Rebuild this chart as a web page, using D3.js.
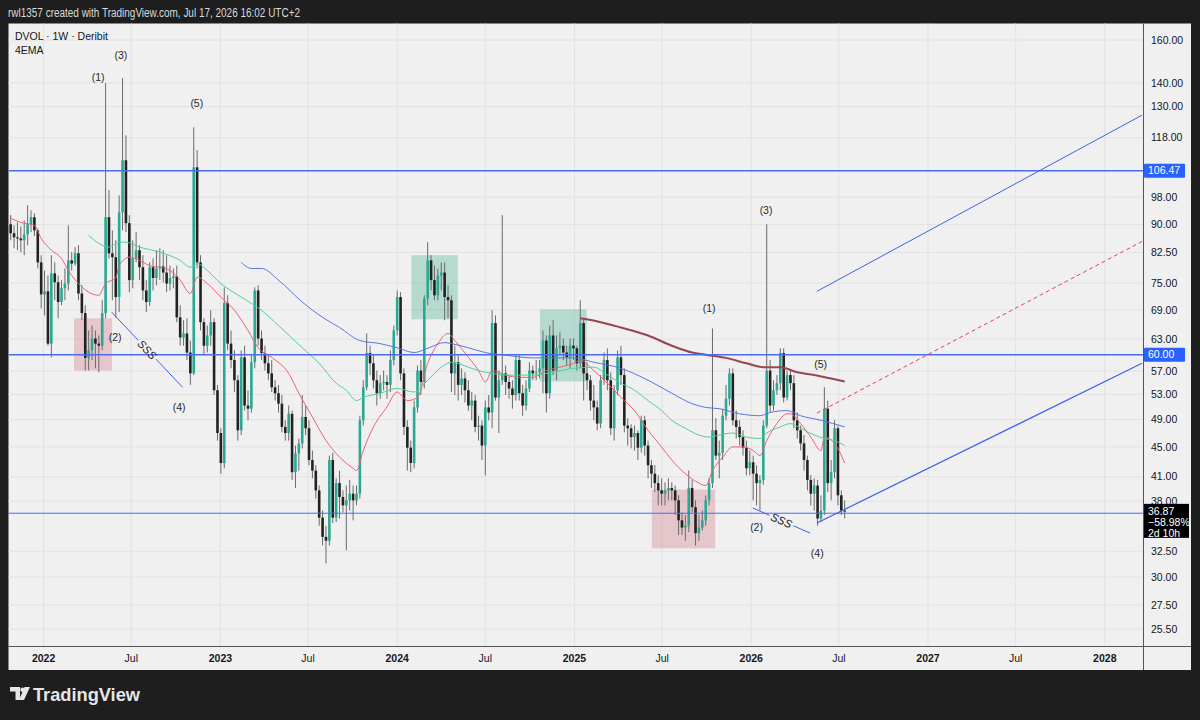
<!DOCTYPE html>
<html>
<head>
<meta charset="utf-8">
<script src="https://cdn.jsdelivr.net/npm/d3@7"></script>
<style>
  body { margin: 0; background: #1e1e1e; }
  svg { display: block; font-family: "Liberation Sans", "Noto Sans", sans-serif; }
</style>
</head>
<body>
<svg id="chart"></svg>
<script>
// weekly candles, first week starts Monday 2021-10-25
const firstWeek = Date.UTC(2021, 9, 25);

const open = [90.1, 87.6, 86.5, 86.2, 85.7, 87.3, 90.1, 92.1, 88.4, 80.0,
  72.4, 73.1, 62.1, 77.3, 75.2, 70.7, 73.8, 74.9, 80.5, 79.7,
  82.3, 72.6, 68.3, 59.4, 60.8, 63.1, 62.1, 61.7, 68.3, 92.1,
  82.3, 81.3, 71.8, 93.5, 110.0, 90.4, 75.7, 81.0, 83.1, 78.8,
  73.3, 70.7, 78.8, 76.2, 78.5, 79.0, 77.5, 74.9, 76.2, 76.6,
  67.4, 63.3, 64.1, 60.4, 56.6, 107.6, 80.0, 66.4, 61.7, 63.7,
  66.4, 53.7, 47.0, 42.8, 70.5, 62.1, 59.0, 55.4, 47.4, 59.5,
  51.2, 50.7, 58.6, 73.3, 63.1, 60.3, 58.4, 56.6, 54.2, 53.2,
  51.5, 47.9, 47.0, 49.9, 41.6, 44.1, 45.5, 49.4, 47.7, 43.2,
  41.8, 39.3, 36.1, 34.0, 33.6, 43.2, 36.1, 40.2, 38.5, 37.5,
  38.1, 38.9, 38.1, 38.9, 48.9, 54.2, 60.3, 58.4, 55.4, 53.2,
  54.9, 55.1, 54.6, 59.0, 64.7, 71.8, 56.6, 47.9, 44.9, 42.8,
  50.9, 57.1, 55.1, 71.5, 80.5, 75.7, 72.2, 76.8, 77.5, 71.8,
  71.1, 56.6, 58.6, 54.6, 55.7, 53.7, 51.2, 52.0, 47.9, 48.1,
  45.2, 50.9, 50.1, 66.2, 52.5, 55.4, 56.6, 55.1, 54.0, 52.9,
  59.0, 53.2, 51.2, 54.0, 57.1, 56.6, 56.8, 57.5, 62.7, 53.2,
  63.7, 57.1, 61.2, 61.7, 60.4, 59.5, 61.7, 61.2, 58.4, 66.2,
  56.6, 55.4, 52.0, 50.9, 48.4, 55.4, 59.0, 55.4, 47.7, 53.7,
  59.5, 56.3, 48.1, 47.7, 46.4, 47.0, 44.9, 48.9, 45.2, 42.5,
  41.4, 40.2, 39.3, 38.9, 39.3, 39.6, 39.3, 38.1, 35.8, 35.0,
  35.2, 39.6, 37.3, 34.4, 35.0, 35.8, 38.1, 40.2, 47.4, 43.8,
  44.2, 49.6, 52.3, 56.6, 48.9, 47.9, 46.4, 44.9, 42.1, 42.9,
  41.4, 40.2, 40.6, 48.1, 57.1, 51.2, 53.7, 54.9, 60.3, 52.5,
  56.3, 54.9, 48.9, 47.4, 45.5, 43.2, 40.6, 38.9, 39.9, 36.0,
  36.9, 50.7, 40.2, 41.6, 47.7, 38.7, 36.9];

const high = [92.7, 89.8, 90.6, 89.5, 91.2, 95.6, 94.1, 93.2, 88.9, 81.8,
  78.0, 76.8, 81.8, 80.0, 76.8, 75.7, 78.5, 89.8, 82.6, 83.9,
  84.4, 74.5, 70.0, 64.7, 65.7, 64.7, 63.7, 71.1, 139.9, 100.2,
  88.4, 85.7, 98.6, 142.1, 118.9, 92.7, 85.7, 87.9, 84.4, 81.8,
  75.7, 80.0, 81.0, 83.1, 83.6, 83.1, 81.8, 79.2, 78.5, 79.2,
  70.0, 66.8, 67.2, 62.7, 121.9, 113.5, 81.8, 67.2, 65.7, 68.9,
  67.2, 54.6, 47.7, 74.0, 72.2, 64.7, 60.8, 56.3, 60.8, 61.7,
  53.7, 59.9, 74.0, 74.5, 64.7, 61.7, 59.9, 59.0, 55.4, 54.6,
  52.9, 48.9, 51.2, 50.4, 45.2, 46.2, 52.9, 51.2, 48.9, 44.5,
  42.5, 39.9, 36.9, 35.2, 43.8, 44.2, 40.8, 41.8, 39.3, 39.9,
  40.6, 39.9, 39.9, 49.6, 55.4, 64.1, 61.7, 59.9, 57.1, 56.3,
  57.1, 56.3, 60.8, 65.7, 73.3, 72.9, 57.5, 48.9, 45.9, 52.0,
  58.0, 59.0, 72.2, 85.2, 81.8, 79.2, 78.5, 80.0, 80.0, 74.5,
  72.2, 61.7, 59.9, 57.5, 56.8, 55.4, 53.4, 52.9, 49.6, 48.9,
  52.0, 52.9, 68.9, 67.8, 57.1, 92.7, 58.0, 56.3, 55.4, 59.9,
  59.9, 54.6, 55.4, 58.6, 58.0, 59.0, 59.0, 64.7, 63.7, 65.7,
  66.8, 63.7, 64.3, 63.1, 61.7, 63.1, 63.1, 61.7, 71.1, 67.2,
  58.6, 56.3, 54.6, 52.0, 56.3, 60.4, 61.2, 56.8, 54.6, 60.8,
  61.7, 57.5, 49.2, 48.3, 48.1, 47.4, 49.6, 49.6, 45.9, 43.2,
  42.5, 41.2, 40.8, 40.3, 40.8, 40.3, 39.9, 38.7, 36.7, 36.4,
  41.8, 40.6, 38.1, 36.4, 36.9, 38.7, 40.8, 65.1, 49.2, 45.9,
  50.7, 54.6, 57.5, 57.5, 50.4, 48.9, 47.4, 45.9, 44.5, 43.8,
  42.5, 41.2, 48.9, 90.1, 59.0, 55.4, 56.3, 61.2, 61.2, 57.1,
  57.1, 56.3, 50.1, 48.1, 46.7, 43.8, 41.2, 40.8, 40.6, 38.7,
  54.2, 52.0, 43.2, 48.9, 48.1, 39.3, 38.1];

const low = [85.7, 83.6, 83.1, 82.6, 81.8, 84.4, 87.9, 86.8, 78.5, 69.3,
  67.8, 61.7, 59.5, 71.1, 67.2, 70.0, 71.1, 73.3, 78.0, 79.2,
  71.1, 66.8, 57.1, 57.1, 59.0, 57.5, 56.8, 60.8, 67.2, 81.0,
  71.1, 67.4, 68.5, 88.4, 87.9, 72.9, 73.8, 80.0, 75.7, 71.1,
  68.5, 69.8, 73.3, 74.5, 75.7, 75.2, 72.9, 73.3, 73.8, 66.4,
  61.7, 61.7, 59.0, 54.6, 56.3, 78.5, 64.7, 59.9, 60.4, 61.7,
  52.9, 45.9, 41.4, 42.1, 60.8, 57.5, 53.4, 45.9, 46.7, 50.4,
  48.9, 50.1, 57.5, 61.7, 59.0, 57.1, 55.4, 53.4, 52.0, 50.1,
  47.1, 45.9, 45.9, 40.6, 39.6, 41.8, 44.8, 46.7, 42.5, 40.8,
  38.3, 35.2, 33.1, 31.3, 33.1, 35.5, 35.6, 36.0, 36.7, 32.6,
  36.9, 35.8, 37.5, 38.3, 48.1, 53.7, 56.3, 54.0, 51.2, 52.3,
  53.7, 52.3, 53.4, 58.0, 63.7, 55.4, 46.7, 41.8, 41.6, 42.1,
  50.1, 52.9, 54.0, 70.0, 73.3, 71.1, 71.1, 73.3, 66.8, 67.2,
  53.4, 52.9, 52.0, 52.9, 51.7, 50.4, 48.9, 47.1, 45.9, 43.2,
  41.2, 48.9, 47.7, 52.0, 47.0, 54.6, 52.9, 52.3, 50.7, 52.0,
  52.0, 49.6, 50.4, 53.4, 55.4, 55.4, 55.7, 53.2, 50.1, 52.3,
  56.3, 55.4, 59.9, 59.0, 58.0, 57.5, 59.0, 57.1, 57.5, 52.0,
  53.7, 50.4, 48.9, 47.4, 47.7, 54.6, 53.7, 46.7, 45.9, 52.9,
  54.6, 47.1, 45.2, 44.8, 44.5, 43.2, 44.2, 43.8, 40.8, 39.6,
  39.1, 37.5, 37.5, 37.5, 38.1, 38.1, 36.4, 34.2, 34.2, 33.6,
  34.5, 36.7, 33.1, 33.6, 34.7, 35.2, 37.5, 39.6, 43.2, 40.8,
  43.2, 48.9, 51.2, 48.1, 46.2, 45.2, 43.8, 41.2, 41.2, 38.1,
  37.5, 36.9, 40.0, 47.7, 50.1, 50.4, 52.9, 53.7, 51.7, 52.0,
  53.7, 47.7, 46.2, 44.5, 41.8, 39.3, 37.5, 36.9, 35.2, 35.6,
  36.4, 39.1, 38.1, 40.8, 37.5, 36.4, 36.0];

const close = [87.6, 86.5, 86.2, 85.7, 87.3, 90.1, 92.1, 88.4, 80.0, 72.4,
  73.1, 62.1, 77.3, 75.2, 70.7, 73.8, 74.9, 80.5, 79.7, 82.3,
  72.6, 68.3, 59.4, 60.8, 63.1, 62.1, 61.7, 68.3, 92.1, 82.3,
  81.3, 71.8, 93.5, 110.0, 90.4, 75.7, 81.0, 83.1, 78.8, 73.3,
  70.7, 78.8, 76.2, 78.5, 79.0, 77.5, 74.9, 76.2, 76.6, 67.4,
  63.3, 64.1, 60.4, 56.6, 107.6, 80.0, 66.4, 61.7, 63.7, 66.4,
  53.7, 47.0, 42.8, 70.5, 62.1, 59.0, 55.4, 47.4, 59.5, 51.2,
  50.7, 58.6, 73.3, 63.1, 60.3, 58.4, 56.6, 54.2, 53.2, 51.5,
  47.9, 47.0, 49.9, 41.6, 44.1, 45.5, 49.4, 47.7, 43.2, 41.8,
  39.3, 36.1, 34.0, 33.6, 43.2, 36.1, 40.2, 38.5, 37.5, 38.1,
  38.9, 38.1, 38.9, 48.9, 54.2, 60.3, 58.4, 55.4, 53.2, 54.9,
  55.1, 54.6, 59.0, 64.7, 71.8, 56.6, 47.9, 44.9, 42.8, 50.9,
  57.1, 55.1, 71.5, 80.5, 75.7, 72.2, 76.8, 77.5, 71.8, 71.1,
  56.6, 58.6, 54.6, 55.7, 53.7, 51.2, 52.0, 47.9, 48.1, 45.2,
  50.9, 50.1, 66.2, 52.5, 55.4, 56.6, 55.1, 54.0, 52.9, 59.0,
  53.2, 51.2, 54.0, 57.1, 56.6, 56.8, 57.5, 62.7, 53.2, 63.7,
  57.1, 61.2, 61.7, 60.4, 59.5, 61.7, 61.2, 58.4, 66.2, 56.6,
  55.4, 52.0, 50.9, 48.4, 55.4, 59.0, 55.4, 47.7, 53.7, 59.5,
  56.3, 48.1, 47.7, 46.4, 47.0, 44.9, 48.9, 45.2, 42.5, 41.4,
  40.2, 39.3, 38.9, 39.3, 39.6, 39.3, 38.1, 35.8, 35.0, 35.2,
  39.6, 37.3, 34.4, 35.0, 35.8, 38.1, 40.2, 47.4, 43.8, 44.2,
  49.6, 52.3, 56.6, 48.9, 47.9, 46.4, 44.9, 42.1, 42.9, 41.4,
  40.2, 40.6, 48.1, 57.1, 51.2, 53.7, 54.9, 60.3, 52.5, 56.3,
  54.9, 48.9, 47.4, 45.5, 43.2, 40.6, 38.9, 39.9, 36.0, 36.9,
  50.7, 40.2, 41.6, 47.7, 38.7, 36.9, 36.87];

// 4EMA lines: [week index, value]
const emaFast = [[0, 91.8], [3, 90.6], [7, 89.8], [9, 86.2], [12, 83.1], [15, 81.0], [17, 78.0],
  [20, 74.9], [23, 72.9], [26, 72.2], [28, 74.9], [31, 76.2], [32, 79.2], [35, 81.3], [38, 80.5],
  [41, 79.2], [44, 78.8], [47, 78.0], [50, 75.7], [53, 72.6], [55, 76.4], [58, 74.9], [62, 71.8],
  [66, 68.9], [70, 64.7], [73, 61.3], [77, 59.5], [82, 56.6], [85, 53.2], [89, 49.4], [93, 45.9],
  [97, 43.6], [101, 42.1], [102, 41.8], [104, 44.5], [107, 47.9], [111, 51.0], [114, 53.4],
  [117, 52.0], [120, 52.5], [123, 58.4], [126, 62.1], [129, 64.1], [131, 62.7], [135, 59.5],
  [138, 57.1], [140, 55.1], [142, 57.1], [146, 56.3], [150, 55.9], [154, 55.9], [158, 57.1],
  [162, 57.7], [166, 58.4], [168, 59.0], [172, 57.1], [176, 54.9], [180, 52.5], [184, 50.4],
  [188, 47.4], [192, 45.0], [195, 43.2], [199, 41.4], [203, 40.2], [205, 39.9], [207, 41.8],
  [210, 43.6], [213, 45.0], [216, 45.0], [219, 44.5], [221, 43.8], [223, 45.9], [226, 48.4],
  [229, 49.9], [230, 49.9], [233, 48.4], [236, 46.4], [239, 44.5], [240, 46.4], [243, 45.5],
  [246, 42.8]];
const emaMid = [[23, 87.0], [26, 84.9], [29, 83.9], [32, 85.2], [34, 85.2], [38, 83.9], [44, 82.6],
  [50, 80.5], [53, 78.8], [55, 79.7], [58, 78.0], [62, 74.9], [68, 71.8], [74, 68.9], [79, 65.7],
  [86, 61.3], [91, 58.4], [96, 54.9], [99, 53.7], [102, 52.0], [104, 52.5], [109, 53.2],
  [114, 54.0], [119, 53.4], [123, 55.4], [127, 57.7], [130, 58.6], [135, 57.7], [138, 57.1],
  [142, 56.6], [148, 56.3], [154, 56.3], [160, 56.8], [166, 57.5], [172, 57.7], [176, 56.3],
  [180, 54.9], [184, 53.7], [188, 52.0], [192, 50.4], [195, 48.9], [199, 47.7], [203, 46.7],
  [206, 46.4], [209, 46.7], [213, 47.0], [217, 46.4], [221, 46.2], [223, 47.0], [227, 47.9],
  [230, 48.4], [233, 47.7], [237, 46.7], [240, 46.2], [243, 45.9], [246, 45.2]];
const emaSlow = [[68, 80.0], [71, 78.5], [74, 78.5], [79, 75.7], [86, 70.7], [92, 67.4], [97, 65.3],
  [103, 62.7], [109, 62.1], [114, 61.3], [119, 60.4], [123, 61.2], [128, 62.3], [130, 62.1],
  [135, 61.3], [140, 60.4], [146, 59.9], [154, 59.4], [160, 59.4], [166, 59.4], [172, 58.6],
  [180, 57.5], [188, 55.4], [195, 53.2], [201, 51.5], [205, 50.9], [209, 50.7], [215, 49.9],
  [221, 49.6], [224, 50.1], [229, 50.4], [233, 49.6], [239, 48.9], [246, 47.9]];
const emaLong = [[168, 67.2], [174, 66.4], [180, 65.3], [188, 63.7], [195, 61.7], [201, 60.4],
  [205, 60.0], [211, 59.4], [217, 58.4], [222, 57.7], [227, 57.7], [232, 56.8], [237, 56.3],
  [242, 55.7], [246, 55.2]];

const priceTicks = [160, 140, 130, 118, 98, 90, 82.5, 75, 69, 63, 57, 53, 49, 45, 41, 38, 32.5, 30, 27.5, 25.5];
const timeTicks = ['2022-01-01', '2022-07-01', '2023-01-01', '2023-07-01', '2024-01-01', '2024-07-01',
  '2025-01-01', '2025-07-01', '2026-01-01', '2026-07-01', '2027-01-01', '2027-07-01', '2028-01-01'];
const timeLabels = ['2022', 'Jul', '2023', 'Jul', '2024', 'Jul', '2025', 'Jul', '2026', 'Jul', '2027', 'Jul', '2028'];
const lastInfo = ['\u221258.98%', '2d 10h'];

// drawings, in [week index, price]
const levels = [106.47, 60.00];
const supportLevel = 36.6;
const boxes = [
  { from: 18.7, to: 29.9, top: 67.2, bottom: 57.1, kind: 'red' },
  { from: 118.2, to: 131.9, top: 81.8, bottom: 67.0, kind: 'green' },
  { from: 156.1, to: 169.9, top: 69.1, bottom: 55.2, kind: 'green' },
  { from: 189.1, to: 207.8, top: 39.4, bottom: 32.8, kind: 'red' }
];
const channelUpper = [[237.8, 73.1], [333.7, 126.6]];
const channelLower = [[237.8, 35.5], [333.7, 58.4]];
const channelMid = [[237.8, 50.0], [333.7, 85.4]];
const sssLines = [
  [[29.8, 68.5], [50.7, 54.2]],
  [[218.9, 37.2], [235.8, 34.4]]
];
const waveLabels = [
  ['(1)', 25.8, 142.5], ['(3)', 32.5, 152.7], ['(5)', 54.9, 131.4], ['(2)', 30.8, 63.3], ['(4)', 49.7, 50.9],
  ['(1)', 206.0, 69.3], ['(3)', 222.8, 94.1], ['(5)', 238.9, 58.2], ['(2)', 220.0, 35.0], ['(4)', 237.9, 32.3]
];

const W = 1200, H = 720;
const plotL = 8.5, plotR = 1143.5, plotT = 23.5, plotB = 646.5;

const svg = d3.select('#chart').attr('width', W).attr('height', H);
svg.append('rect').attr('width', W).attr('height', H).attr('fill', '#1e1e1e');
svg.append('rect').attr('x', plotL).attr('y', plotT).attr('width', 1191 - plotL).attr('height', 670 - plotT)
  .attr('fill', '#f0f0f0');

const x = d3.scaleUtc()
  .domain([Date.UTC(2022, 0, 1), Date.UTC(2028, 0, 1)])
  .range([43.6, 1104.8]);
const y = d3.scaleLog()
  .domain([24.27, 168.2])
  .range([645, 24]);

const week = i => new Date(firstWeek + i * 7 * 864e5);
const px = i => x(week(i));

svg.append('clipPath').attr('id', 'plotClip')
  .append('rect').attr('x', plotL).attr('y', plotT).attr('width', plotR - plotL).attr('height', plotB - plotT);

// grid
const grid = svg.append('g');
grid.selectAll('.vg').data(timeTicks).enter().append('line')
  .attr('x1', d => x(new Date(d))).attr('x2', d => x(new Date(d)))
  .attr('y1', plotT).attr('y2', plotB)
  .attr('stroke', '#e2e2e2').attr('stroke-width', 1);
grid.selectAll('.hg').data(priceTicks).enter().append('line')
  .attr('x1', plotL).attr('x2', plotR)
  .attr('y1', d => y(d)).attr('y2', d => y(d))
  .attr('stroke', '#e2e2e2').attr('stroke-width', 1);

const g = svg.append('g').attr('clip-path', 'url(#plotClip)');

// rectangles
g.selectAll('.box').data(boxes).enter().append('rect')
  .attr('x', d => px(d.from)).attr('width', d => px(d.to) - px(d.from))
  .attr('y', d => y(d.top)).attr('height', d => y(d.bottom) - y(d.top))
  .attr('fill', d => d.kind === 'red' ? 'rgba(205, 110, 125, 0.32)' : 'rgba(60, 170, 140, 0.32)');

// candles
const candles = close.map((c, i) => ({ i, o: open[i], h: high[i], l: low[i], c }));
const bodyW = 2.6;
g.selectAll('.wick').data(candles).enter().append('line')
  .attr('x1', d => px(d.i)).attr('x2', d => px(d.i))
  .attr('y1', d => y(d.h)).attr('y2', d => y(d.l))
  .attr('stroke', '#6a6a6a').attr('stroke-width', 1);
g.selectAll('.body').data(candles).enter().append('rect')
  .attr('x', d => px(d.i) - bodyW / 2).attr('width', bodyW)
  .attr('y', d => y(Math.max(d.o, d.c)))
  .attr('height', d => Math.max(1, Math.abs(y(d.o) - y(d.c))))
  .attr('fill', d => d.c >= d.o ? '#29a893' : '#222222');

// EMA lines
const line = d3.line().x(d => px(d[0])).y(d => y(d[1])).curve(d3.curveMonotoneX);
[[emaFast, '#f0606e', 1], [emaMid, '#4fcf95', 1], [emaSlow, '#5b74e8', 1], [emaLong, '#9a4452', 2]]
  .forEach(([data, color, w]) => {
    g.append('path').datum(data).attr('d', line)
      .attr('fill', 'none').attr('stroke', color).attr('stroke-width', w);
  });

// horizontal levels
g.selectAll('.lvl').data(levels).enter().append('line')
  .attr('x1', plotL).attr('x2', plotR).attr('y1', d => y(d)).attr('y2', d => y(d))
  .attr('stroke', '#4a6cf0').attr('stroke-width', 1.5);
g.append('line').attr('x1', plotL).attr('x2', plotR)
  .attr('y1', y(supportLevel)).attr('y2', y(supportLevel))
  .attr('stroke', '#4a6cf0').attr('stroke-width', 1);

// channel
const seg = d3.line().x(d => px(d[0])).y(d => y(d[1]));
g.append('path').datum(channelUpper).attr('d', seg).attr('stroke', '#3f63e6').attr('stroke-width', 1).attr('fill', 'none');
g.append('path').datum(channelLower).attr('d', seg).attr('stroke', '#3f63e6').attr('stroke-width', 1.2).attr('fill', 'none');
g.append('path').datum(channelMid).attr('d', seg).attr('stroke', '#e8404f').attr('stroke-width', 1)
  .attr('stroke-dasharray', '4 3').attr('fill', 'none');

// SSS lines with label in the middle
sssLines.forEach(pts => {
  const [a, b] = pts.map(p => [px(p[0]), y(p[1])]);
  const mx = (a[0] + b[0]) / 2, my = (a[1] + b[1]) / 2;
  const ang = Math.atan2(b[1] - a[1], b[0] - a[0]);
  const gap = 13;
  const ux = Math.cos(ang), uy = Math.sin(ang);
  g.append('line').attr('x1', a[0]).attr('y1', a[1]).attr('x2', mx - ux * gap).attr('y2', my - uy * gap)
    .attr('stroke', '#3f63e6').attr('stroke-width', 1);
  g.append('line').attr('x1', mx + ux * gap).attr('y1', my + uy * gap).attr('x2', b[0]).attr('y2', b[1])
    .attr('stroke', '#3f63e6').attr('stroke-width', 1);
  g.append('text').attr('transform', `translate(${mx},${my}) rotate(${ang * 180 / Math.PI})`)
    .attr('text-anchor', 'middle').attr('dy', '0.35em')
    .attr('font-size', 11).attr('font-style', 'italic').attr('fill', '#222').text('SSS');
});

// wave labels
g.selectAll('.wave').data(waveLabels).enter().append('text')
  .attr('x', d => px(d[1])).attr('y', d => y(d[2])).attr('dy', '0.35em')
  .attr('text-anchor', 'middle').attr('font-size', 10.5).attr('fill', '#2a2a2a')
  .text(d => d[0]);

// axes frames
svg.append('line').attr('x1', plotR).attr('x2', plotR).attr('y1', plotT).attr('y2', 670)
  .attr('stroke', '#555').attr('stroke-width', 1);
svg.append('line').attr('x1', plotL).attr('x2', 1191).attr('y1', plotB).attr('y2', plotB)
  .attr('stroke', '#555').attr('stroke-width', 1);

// price axis
svg.selectAll('.pt').data(priceTicks).enter().append('text')
  .attr('x', 1151).attr('y', d => y(d)).attr('dy', '0.35em')
  .attr('font-size', 10.5).attr('fill', '#131722')
  .text(d => d3.format('.2f')(d));

levels.forEach(v => {
  svg.append('rect').attr('x', 1144).attr('y', y(v) - 7).attr('width', 41).attr('height', 14)
    .attr('fill', '#2962ff').attr('rx', 1);
  svg.append('text').attr('x', 1148).attr('y', y(v)).attr('dy', '0.35em')
    .attr('font-size', 10.5).attr('fill', '#fff').text(d3.format('.2f')(v));
});

const last = close[close.length - 1];
const lastY = y(last);
svg.append('rect').attr('x', 1144).attr('y', lastY - 7).attr('width', 45).attr('height', 34)
  .attr('fill', '#000');
[d3.format('.2f')(last)].concat(lastInfo).forEach((t, k) => {
  svg.append('text').attr('x', 1148).attr('y', lastY + k * 11).attr('dy', '0.35em')
    .attr('font-size', 10.5).attr('fill', '#fff').text(t);
});

// time axis
svg.selectAll('.tt').data(timeTicks).enter().append('text')
  .attr('x', d => x(new Date(d))).attr('y', 658).attr('dy', '0.35em')
  .attr('text-anchor', 'middle').attr('font-size', 10.5).attr('fill', '#131722')
  .attr('font-weight', (d, i) => timeLabels[i] === 'Jul' ? 'normal' : 'bold')
  .text((d, i) => timeLabels[i]);

// header and legend
svg.append('text').attr('x', 8).attr('y', 13).attr('dy', '0.35em')
  .attr('font-size', 12).attr('fill', '#d8dade')
  .attr('textLength', 292).attr('lengthAdjust', 'spacingAndGlyphs')
  .text('rwl1357 created with TradingView.com, Jul 17, 2026 16:02 UTC+2');
svg.append('text').attr('x', 15).attr('y', 36).attr('dy', '0.35em')
  .attr('font-size', 10.5).attr('fill', '#131722').text('DVOL \u00b7 1W \u00b7 Deribit');
svg.append('text').attr('x', 15).attr('y', 50).attr('dy', '0.35em')
  .attr('font-size', 10.5).attr('fill', '#131722').text('4EMA');

// footer logo
const logo = svg.append('g').attr('fill', '#e6e6e6');
logo.append('path').attr('d', 'M10,687 h10 v13 h-4.5 v-8.5 h-5.5 z');
logo.append('circle').attr('cx', 22.5).attr('cy', 689.8).attr('r', 2.2);
logo.append('path').attr('d', 'M24.5,687 h5.5 l-6,13 h-5 z');
svg.append('text').attr('x', 33).attr('y', 695).attr('dy', '0.35em')
  .attr('font-size', 18.5).attr('font-weight', 'bold').attr('fill', '#e6e6e6')
  .attr('textLength', 107).attr('lengthAdjust', 'spacingAndGlyphs')
  .text('TradingView');
</script>
</body>
</html>
